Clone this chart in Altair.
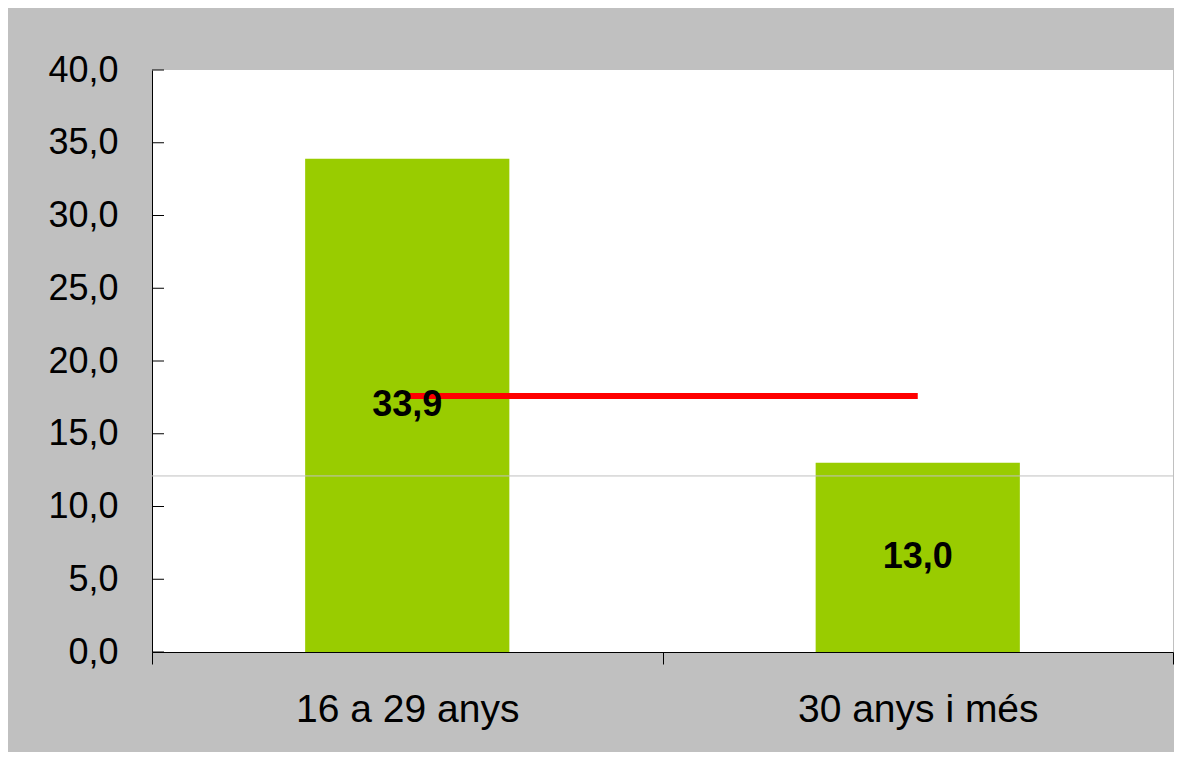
import altair as alt
import pandas as pd

categories = ["16 a 29 anys", "30 anys i més"]
values = [33.9, 13.0]
average_line = [17.6, 17.6]
reference_value = [12.1]
y_ticks = [0, 5, 10, 15, 20, 25, 30, 35, 40]

FONT = "Liberation Sans"

bars_df = pd.DataFrame({"cat": categories, "value": values, "avg": average_line})
ref_df = pd.DataFrame({"v": reference_value})
ticks_df = pd.DataFrame({"t": y_ticks})

y_scale = alt.Scale(domain=[0, 40], nice=False, zero=True)

x_enc = alt.X(
    "cat:N",
    sort=categories,
    title=None,
    scale=alt.Scale(paddingInner=0, paddingOuter=0),
    axis=alt.Axis(
        labelAngle=0,
        labelFont=FONT,
        labelFontSize=39,
        labelColor="black",
        labelPadding=26,
        labelLimit=0,
        tickBand="extent",
        tickSize=12,
        tickColor="black",
        domainColor="black",
        grid=False,
    ),
)

base = alt.Chart(bars_df)

bars = base.mark_bar(color="#99CC00", width=alt.RelativeBandSize(0.4)).encode(
    x=x_enc,
    y=alt.Y(
        "value:Q",
        scale=y_scale,
        title=None,
        axis=alt.Axis(
            values=y_ticks,
            labelExpr="replace(format(datum.value, '.1f'), '.', ',')",
            ticks=False,
            labelPadding=34,
            labelFont=FONT,
            labelFontSize=36,
            labelColor="black",
            domainColor="black",
            grid=False,
        ),
    ),
)

ref_rule = alt.Chart(ref_df).mark_rule(color="#C0C0C0", strokeWidth=1).encode(
    y=alt.Y("v:Q", scale=y_scale, title=None)
)

y_tick_marks = alt.Chart(ticks_df).mark_rule(color="black", strokeWidth=1).encode(
    y=alt.Y("t:Q", scale=y_scale, title=None),
    x=alt.value(0),
    x2=alt.value(12),
)

avg_line = base.mark_line(color="#FF0000", strokeWidth=6).encode(
    x=x_enc,
    y=alt.Y("avg:Q", scale=y_scale, title=None),
)

labels = base.transform_calculate(
    mid="datum.value / 2",
    lab="replace(format(datum.value, '.1f'), '.', ',')",
).mark_text(
    font=FONT, fontSize=36, fontWeight="bold", color="black", baseline="middle", align="center"
).encode(
    x=x_enc,
    y=alt.Y("mid:Q", scale=y_scale, title=None),
    text="lab:N",
)

chart = (
    alt.layer(bars, ref_rule, y_tick_marks, avg_line, labels)
    .properties(
        width=1021,
        height=582,
        background="#C0C0C0",
        autosize=alt.AutoSizeParams(type="none"),
        padding={"left": 144, "top": 62, "right": 1, "bottom": 100},
    )
    .configure_view(fill="white", stroke=None)
)

chart.save("out.html", embed_options={"renderer": "svg", "actions": False})
